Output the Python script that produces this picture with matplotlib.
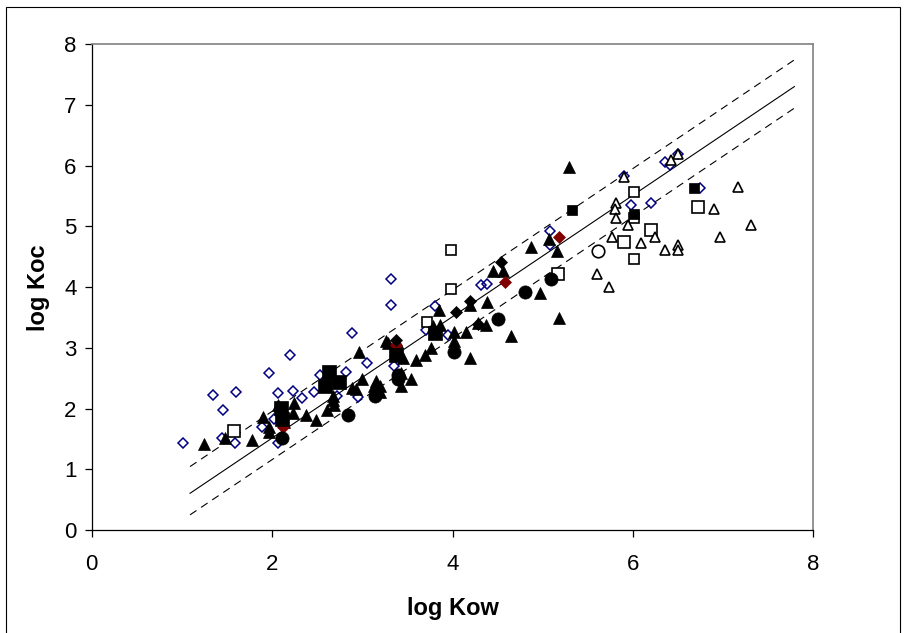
import matplotlib
matplotlib.use("Agg")
import matplotlib.pyplot as plt
from matplotlib.patches import Rectangle

plt.rcParams['font.family'] = ['Liberation Sans', 'DejaVu Sans']

# ---------------- data (log Kow, log Koc) ----------------
blue_diamond_x = [1.01, 1.34, 1.45, 1.44, 1.60, 1.59, 1.97, 1.89, 2.02, 2.06, 2.07, 2.20, 2.23,
                  2.33, 2.46, 2.53, 2.72, 2.82, 2.88, 2.95, 3.05, 3.32, 3.32, 3.35, 3.71, 3.80,
                  3.95, 4.32, 4.38, 5.08, 5.08, 5.90, 5.98, 6.20, 6.35, 6.41, 6.50, 6.74]
blue_diamond_y = [1.43, 2.23, 1.98, 1.51, 2.28, 1.44, 2.59, 1.70, 1.83, 1.43, 2.26, 2.89, 2.29,
                  2.17, 2.27, 2.56, 2.20, 2.60, 3.25, 2.19, 2.75, 4.14, 3.70, 2.71, 3.30, 3.69,
                  3.22, 4.03, 4.06, 4.92, 4.70, 5.83, 5.36, 5.38, 6.07, 6.01, 6.20, 5.63]

open_sq_big_x = [1.58, 5.17, 5.90, 6.20, 6.72]
open_sq_big_y = [1.63, 4.22, 4.75, 4.94, 5.32]
open_sq_small_x = [3.72, 3.98, 3.98, 6.01, 6.01, 6.01]
open_sq_small_y = [3.43, 3.97, 4.62, 5.57, 5.14, 4.47]

open_tri_x = [5.90, 5.81, 5.80, 5.81, 5.94, 5.77, 6.09, 6.24, 6.36, 6.50, 6.50, 5.60, 5.73,
              6.50, 6.42, 7.16, 6.90, 7.31, 6.96]
open_tri_y = [5.82, 5.38, 5.28, 5.14, 5.02, 4.83, 4.72, 4.83, 4.61, 4.69, 4.61, 4.22, 4.00,
              6.20, 6.09, 5.65, 5.29, 5.03, 4.83]

tri_x = [1.25, 1.48, 1.78, 1.90, 1.96, 1.96, 2.06, 2.13, 2.24, 2.23, 2.38, 2.49, 2.61, 2.67,
         2.67, 2.69, 2.89, 2.93, 2.96, 3.00, 3.13, 3.15, 3.20, 3.20, 3.26, 3.28, 3.38, 3.43,
         3.43, 3.45, 3.54, 3.59, 3.69, 3.76, 3.78, 3.85, 3.86, 4.02, 4.02, 4.15, 4.19, 4.19,
         4.28, 4.37, 4.38, 4.45, 4.56, 4.65, 4.87, 4.97, 5.07, 5.16, 5.18, 5.29]
tri_y = [1.42, 1.51, 1.49, 1.86, 1.70, 1.62, 2.06, 1.78, 2.09, 1.93, 1.90, 1.81, 1.98, 2.14,
         2.20, 2.06, 2.34, 2.32, 2.94, 2.48, 2.37, 2.45, 2.37, 2.27, 3.11, 3.08, 3.10, 2.37,
         2.59, 2.84, 2.48, 2.80, 2.88, 3.00, 3.36, 3.63, 3.38, 3.27, 3.12, 3.27, 2.83, 3.71,
         3.41, 3.38, 3.76, 4.27, 4.26, 3.19, 4.66, 3.91, 4.79, 4.60, 3.49, 5.98]

red_diamond_x = [2.12, 3.37, 4.58, 5.18]
red_diamond_y = [1.70, 3.04, 4.08, 4.83]

sq_big_x = [2.10, 2.11, 2.59, 2.63, 2.74, 3.37, 3.80]
sq_big_y = [2.01, 1.83, 2.38, 2.61, 2.43, 2.89, 3.25]
sq_small_x = [5.32, 6.01, 6.68]
sq_small_y = [5.27, 5.21, 5.63]

circle_x = [2.11, 2.84, 3.14, 3.39, 3.39, 4.02, 4.50, 4.80, 5.09]
circle_y = [1.51, 1.89, 2.20, 2.48, 2.55, 2.93, 3.48, 3.92, 4.14]
open_circle_x = [5.61]
open_circle_y = [4.59]

black_diamond_x = [3.37, 4.04, 4.19, 4.28, 4.54]
black_diamond_y = [3.13, 3.59, 3.77, 3.40, 4.42]

# regression line y = slope*x + b, with the two dashed bounds
fit_x = [1.09, 7.79]
fit_slope = 1.0
fit_b = -0.485
upper_b = -0.045
lower_b = -0.84

# ---------------- figure ----------------
fig = plt.figure(figsize=(9.1, 6.33), dpi=100)
fig.patches.append(Rectangle((6 / 910, -0.05), 894 / 910, 1.05 - 7.5 / 633,
                             transform=fig.transFigure, fill=False,
                             edgecolor='black', linewidth=0.8))
ax = fig.add_axes([0.1008, 0.1627, 0.793, 0.7672])

fx = fit_x
ax.plot(fx, [fit_slope * v + fit_b for v in fx], color='black', lw=0.8, zorder=1)
ax.plot(fx, [fit_slope * v + upper_b for v in fx], color='black', lw=0.8,
        dashes=(7, 5), zorder=1)
ax.plot(fx, [fit_slope * v + lower_b for v in fx], color='black', lw=0.8,
        dashes=(7, 5), zorder=1)

def pts(x, y, marker, ms, fc, ec, mew=1.0, z=2):
    ax.plot(x, y, linestyle='none', marker=marker, markersize=ms,
            markerfacecolor=fc, markeredgecolor=ec, markeredgewidth=mew, zorder=z)

pts(blue_diamond_x, blue_diamond_y, 'D', 4.6, 'none', '#000080', 1.1, 2)
pts(open_sq_big_x, open_sq_big_y, 's', 8.5, 'white', 'black', 1.2, 3)
pts(open_sq_small_x, open_sq_small_y, 's', 6.5, 'white', 'black', 1.2, 3)
pts(open_tri_x, open_tri_y, '^', 7, 'white', 'black', 1.2, 4)
pts(tri_x, tri_y, '^', 8.5, 'black', 'black', 0.5, 5)
pts(red_diamond_x, red_diamond_y, 'D', 6, '#800000', '#800000', 0.5, 6)
pts(sq_big_x, sq_big_y, 's', 10, 'black', 'black', 0.5, 7)
pts(sq_small_x, sq_small_y, 's', 7.5, 'black', 'black', 0.5, 7)
pts(circle_x, circle_y, 'o', 9.5, 'black', 'black', 0.5, 8)
pts(open_circle_x, open_circle_y, 'o', 9, 'white', 'black', 1.2, 8)
pts(black_diamond_x, black_diamond_y, 'D', 6.5, 'black', 'black', 0.5, 9)

ax.set_xlim(0, 8)
ax.set_ylim(0, 8)
ax.set_xticks([0, 2, 4, 6, 8])
ax.set_yticks(range(0, 9))
ax.tick_params(direction='out', length=5, width=0.9, labelsize=16)
ax.tick_params(axis='x', pad=12)
ax.tick_params(axis='y', pad=6)
for s in ('left', 'bottom'):
    ax.spines[s].set_color('black')
    ax.spines[s].set_linewidth(0.9)
for s in ('top', 'right'):
    ax.spines[s].set_color('#808080')
    ax.spines[s].set_linewidth(1.2)

ax.set_xlabel('log Kow', fontsize=17, fontweight='bold', labelpad=16)
ax.set_ylabel('log Koc', fontsize=17, fontweight='bold', labelpad=10)

fig.savefig('out.png', dpi=100)
